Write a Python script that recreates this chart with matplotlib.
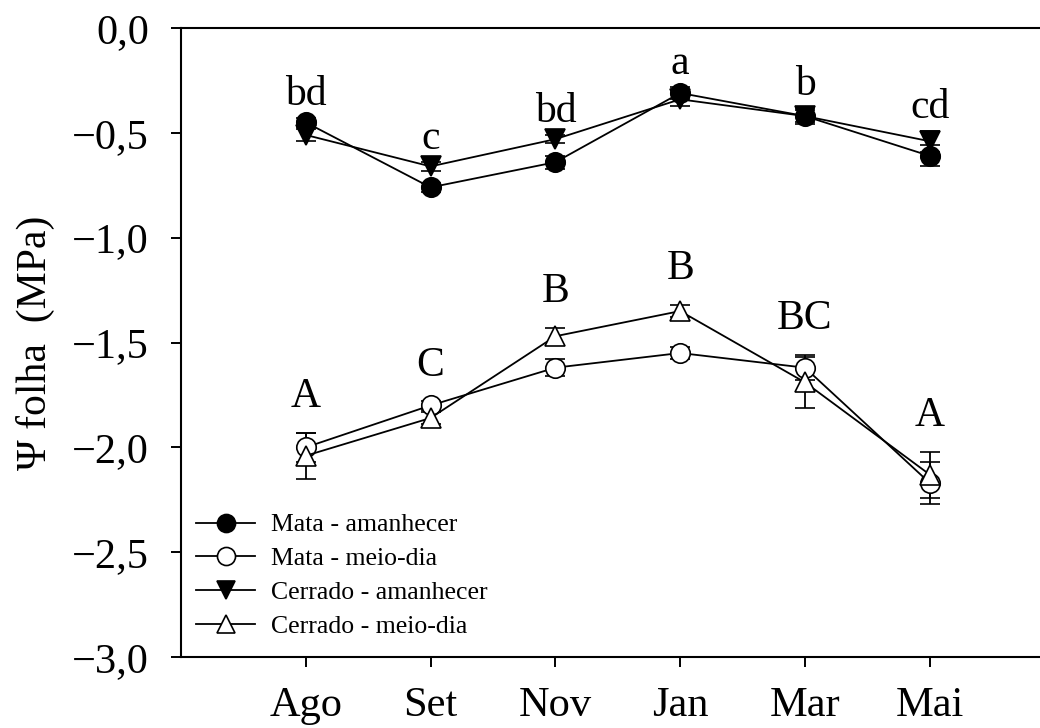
import numpy as np
import matplotlib
matplotlib.use('Agg')
import matplotlib.pyplot as plt
from matplotlib.lines import Line2D
from matplotlib.ticker import FuncFormatter

# ── Dados (Ψ folha, MPa) ──
meses = ["Ago", "Set", "Nov", "Jan", "Mar", "Mai"]

mata_aman     = [-0.45, -0.76, -0.64, -0.31, -0.42, -0.61]
mata_aman_err = [0.02, 0.02, 0.03, 0.03, 0.04, 0.05]
cerr_aman     = [-0.51, -0.66, -0.53, -0.34, -0.42, -0.54]
cerr_aman_err = [0.03, 0.02, 0.02, 0.03, 0.03, 0.05]

mata_md     = [-2.00, -1.80, -1.62, -1.55, -1.62, -2.17]
mata_md_err = [0.07, 0.02, 0.04, 0.03, 0.06, 0.10]
cerr_md     = [-2.04, -1.86, -1.47, -1.35, -1.69, -2.13]
cerr_md_err = [0.11, 0.03, 0.04, 0.03, 0.12, 0.11]

letras_aman = ["bd", "c", "bd", "a", "b", "cd"]
letras_md   = ["A", "C", "B", "B", "BC", "A"]

plt.rcParams['font.family'] = ['Liberation Serif', 'DejaVu Serif']

fig = plt.figure(figsize=(10.4, 7.28), dpi=100)
ax = fig.add_axes([0.174, 0.0975, 0.84, 0.864])

x = np.arange(1, len(meses) + 1)

series = [
    (mata_aman, mata_aman_err, "o", "black", "Mata - amanhecer"),
    (mata_md,   mata_md_err,   "o", "white", "Mata - meio-dia"),
    (cerr_aman, cerr_aman_err, "v", "black", "Cerrado - amanhecer"),
    (cerr_md,   cerr_md_err,   "^", "white", "Cerrado - meio-dia"),
]

handles = []
for vals, errs, mk, fc, lab in series:
    ax.errorbar(x, vals, yerr=errs, fmt="-", color="black", lw=1.3,
                marker=mk, ms=14, mfc=fc, mec="black", mew=1.2,
                capsize=7, capthick=1.3, elinewidth=1.3, zorder=3)
    handles.append(Line2D([0], [0], color="black", lw=1.3, marker=mk, ms=13,
                          mfc=fc, mec="black", mew=1.2, label=lab))

# letras de significância
top_aman = np.maximum(np.array(mata_aman) + mata_aman_err,
                      np.array(cerr_aman) + cerr_aman_err)
top_md = np.maximum(np.array(mata_md) + mata_md_err,
                    np.array(cerr_md) + cerr_md_err)
for xi, t, l in zip(x, top_aman, letras_aman):
    ax.annotate(l, (xi, t), xytext=(0, 3), textcoords="offset points",
                ha="center", va="bottom", fontsize=30)
for xi, t, l in zip(x, top_md, letras_md):
    ax.annotate(l, (xi, t), xytext=(0, 12), textcoords="offset points",
                ha="center", va="bottom", fontsize=30)

ax.set_xlim(0, 7)
ax.set_ylim(-3.0, 0.0)
ax.set_xticks(x)
ax.set_xticklabels(meses)
ax.set_yticks(np.arange(-3.0, 0.01, 0.5))
ax.yaxis.set_major_formatter(FuncFormatter(
    lambda v, p: f"{v:.1f}".replace(".", ",").replace("-", "\u2212")))

ax.tick_params(axis="both", direction="out", length=7, width=1.4, labelsize=30.5)
ax.tick_params(axis="x", pad=14)
ax.tick_params(axis="y", pad=16)
for s in ax.spines.values():
    s.set_linewidth(1.5)

ax.set_ylabel("\u03a8 folha  (MPa)", fontsize=30, labelpad=12)

ax.legend(handles=handles, loc="lower left", frameon=False, fontsize=18.5,
          handlelength=2.3, handletextpad=0.6, labelspacing=0.42,
          borderaxespad=0.2, bbox_to_anchor=(0.0, 0.006))

fig.savefig("out.png", dpi=100)
